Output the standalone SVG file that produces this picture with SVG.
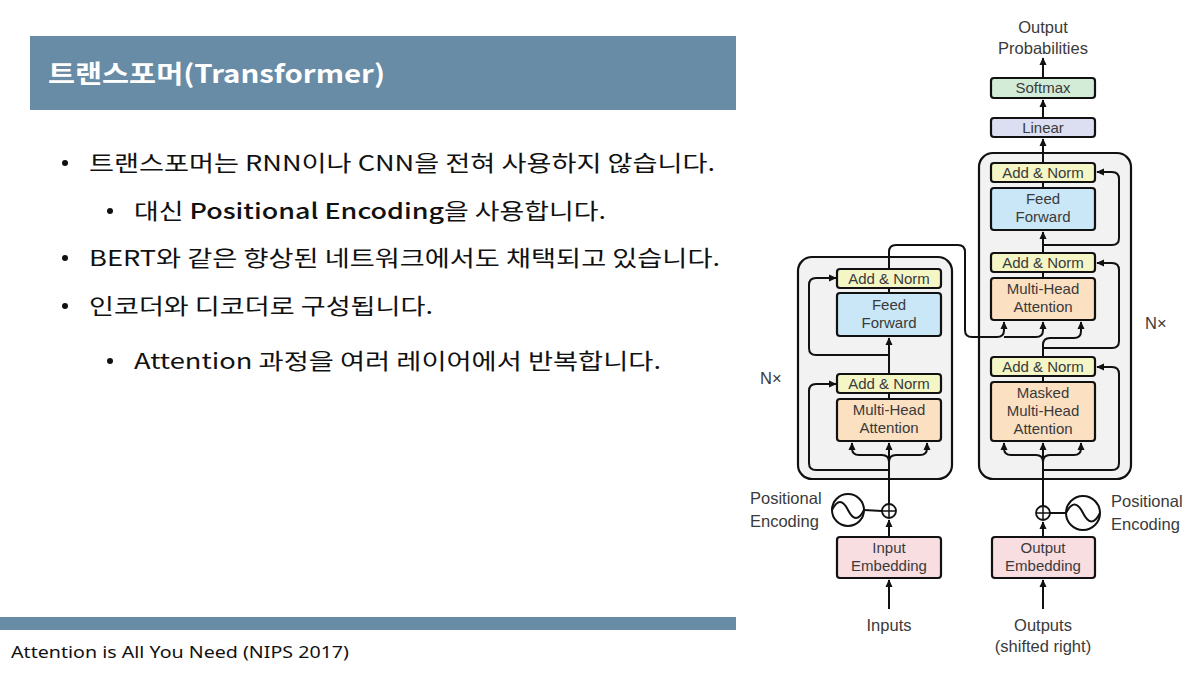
<svg xmlns="http://www.w3.org/2000/svg" width="1198" height="673" viewBox="0 0 1198 673">
<defs>
<marker id="ah" viewBox="0 0 10 10" refX="9" refY="5" markerWidth="8" markerHeight="8" markerUnits="userSpaceOnUse" orient="auto">
<path d="M0,0.5 L10,5 L0,9.5 Z" fill="#111"/>
</marker>
<style>
.kr{font-family:"Noto Sans CJK KR","Noto Sans",sans-serif;fill:#111;font-size:21.5px}
.lbl{font-family:"Liberation Sans",Arial,sans-serif;fill:#3a3a3a;font-size:15px;text-anchor:middle}
.out{font-family:"Liberation Sans",Arial,sans-serif;fill:#3a3a3a;font-size:16.5px}
.blk{stroke:#111;stroke-width:2.2}
.frame{fill:#F2F2F2;stroke:#111;stroke-width:2.2}
.an{fill:#F4F6C6}
.ff{fill:#C9E7F6}
.att{fill:#FCE0C2}
.emb{fill:#F8DDE1}
.sm{fill:#D3ECD7}
.lin{fill:#DCDEF2}
.c{fill:none;stroke:#111;stroke-width:2}
.ca{fill:none;stroke:#111;stroke-width:2;marker-end:url(#ah)}
</style>
</defs>
<rect width="1198" height="673" fill="#fff"/>

<g id="title">
<rect x="30" y="36" width="706" height="74" fill="#688CA6"/>
<text x="48" y="83" font-family="Noto Sans CJK KR, Noto Sans, sans-serif" font-weight="bold" font-size="25" fill="#fff" textLength="337" lengthAdjust="spacingAndGlyphs">트랜스포머(Transformer)</text>
</g>

<g id="bullets">
<circle cx="65" cy="163" r="3" fill="#111"/>
<text class="kr" x="89" y="171" textLength="626" lengthAdjust="spacingAndGlyphs">트랜스포머는 RNN이나 CNN을 전혀 사용하지 않습니다.</text>
<circle cx="110" cy="211" r="3" fill="#111"/>
<text class="kr" x="134" y="219" textLength="472" lengthAdjust="spacingAndGlyphs">대신 <tspan font-weight="500">Positional Encoding</tspan>을 사용합니다.</text>
<circle cx="65" cy="258" r="3" fill="#111"/>
<text class="kr" x="89" y="266" textLength="631" lengthAdjust="spacingAndGlyphs">BERT와 같은 향상된 네트워크에서도 채택되고 있습니다.</text>
<circle cx="65" cy="306" r="3" fill="#111"/>
<text class="kr" x="89" y="314" textLength="344" lengthAdjust="spacingAndGlyphs">인코더와 디코더로 구성됩니다.</text>
<circle cx="110" cy="361" r="3" fill="#111"/>
<text class="kr" x="134" y="369" textLength="527" lengthAdjust="spacingAndGlyphs">Attention 과정을 여러 레이어에서 반복합니다.</text>
</g>

<g id="footer">
<rect x="0" y="617" width="736" height="13" fill="#688CA6"/>
<text x="11" y="658" font-family="Noto Sans, sans-serif" font-size="17" fill="#111" textLength="338" lengthAdjust="spacingAndGlyphs">Attention is All You Need (NIPS 2017)</text>
</g>

<g id="encoder-frame"><rect class="frame" x="798" y="257" width="154" height="222" rx="14"/></g>
<g id="decoder-frame"><rect class="frame" x="979" y="153" width="152" height="326" rx="14"/></g>

<g id="connectors">
<path class="ca" d="M889,609 L889,580"/>
<path class="ca" d="M889,537 L889,520"/>
<path class="c" d="M864,510 L882,511"/>
<path class="ca" d="M889,504 L889,443"/>
<path class="ca" d="M889,462 Q889,455 882,455 L859,455 Q852,455 852,448 L852,443"/>
<path class="ca" d="M889,462 Q889,455 896,455 L920,455 Q927,455 927,448 L927,443"/>
<path class="ca" d="M889,470 L816,470 Q809,470 809,463 L809,391 Q809,384 816,384 L836,384"/>
<path class="c" d="M889,399 L889,393"/>
<path class="ca" d="M889,374 L889,338"/>
<path class="ca" d="M889,355 L816,355 Q809,355 809,348 L809,285 Q809,278 816,278 L836,278"/>
<path class="c" d="M889,293 L889,288"/>
<path class="ca" d="M889,269 L889,252 Q889,245 896,245 L958,245 Q965,245 965,252 L965,330 Q965,337 972,337 L997,337 Q1004,337 1004,330 L1004,322"/>
<path class="ca" d="M1004,337 L1036,337 Q1043,337 1043,330 L1043,322"/>
<path class="ca" d="M1043,609 L1043,580"/>
<path class="ca" d="M1043,537 L1043,522"/>
<path class="c" d="M1050,513 L1066,513"/>
<path class="ca" d="M1043,506 L1043,443"/>
<path class="ca" d="M1043,462 Q1043,455 1036,455 L1011,455 Q1004,455 1004,448 L1004,443"/>
<path class="ca" d="M1043,462 Q1043,455 1050,455 L1074,455 Q1081,455 1081,448 L1081,443"/>
<path class="ca" d="M1043,470 L1112,470 Q1119,470 1119,463 L1119,374 Q1119,367 1112,367 L1097,367"/>
<path class="c" d="M1043,382 L1043,376"/>
<path class="ca" d="M1043,357 L1043,345 Q1043,338 1050,338 L1074,338 Q1081,338 1081,331 L1081,322"/>
<path class="ca" d="M1043,348 L1112,348 Q1119,348 1119,341 L1119,270 Q1119,263 1112,263 L1097,263"/>
<path class="c" d="M1043,278 L1043,272"/>
<path class="ca" d="M1043,253 L1043,232"/>
<path class="ca" d="M1043,245 L1112,245 Q1119,245 1119,238 L1119,179 Q1119,172 1112,172 L1097,172"/>
<path class="c" d="M1043,188 L1043,182"/>
<path class="ca" d="M1043,163 L1043,139"/>
<path class="ca" d="M1043,118 L1043,100"/>
<path class="ca" d="M1043,78 L1043,58"/>
</g>

<g id="enc-addnorm2"><rect class="an blk" x="837" y="269" width="104" height="19" rx="3"/><text class="lbl" x="889" y="284">Add &amp; Norm</text></g>
<g id="enc-ff"><rect class="ff blk" x="837" y="293" width="104" height="43" rx="3"/><text class="lbl" x="889" y="310">Feed</text><text class="lbl" x="889" y="328">Forward</text></g>
<g id="enc-addnorm1"><rect class="an blk" x="837" y="374" width="104" height="19" rx="3"/><text class="lbl" x="889" y="389">Add &amp; Norm</text></g>
<g id="enc-mha"><rect class="att blk" x="837" y="399" width="104" height="42" rx="3"/><text class="lbl" x="889" y="415">Multi-Head</text><text class="lbl" x="889" y="433">Attention</text></g>
<g id="enc-emb"><rect class="emb blk" x="837" y="537" width="104" height="41" rx="3"/><text class="lbl" x="889" y="553">Input</text><text class="lbl" x="889" y="571">Embedding</text></g>
<g id="enc-pe">
<circle cx="848" cy="510" r="16" fill="#fff" stroke="#111" stroke-width="2"/>
<path d="M832,510 Q840,494 848,510 T864,510" fill="none" stroke="#111" stroke-width="2"/>
<circle cx="889" cy="511" r="7" fill="#fff" stroke="#111" stroke-width="1.8"/>
<path d="M882,511 L896,511 M889,504 L889,518" stroke="#111" stroke-width="1.5"/>
</g>

<g id="dec-softmax"><rect class="sm blk" x="991" y="78" width="104" height="20" rx="3"/><text class="lbl" x="1043" y="93">Softmax</text></g>
<g id="dec-linear"><rect class="lin blk" x="991" y="118" width="104" height="19" rx="3"/><text class="lbl" x="1043" y="133">Linear</text></g>
<g id="dec-addnorm3"><rect class="an blk" x="991" y="163" width="104" height="19" rx="3"/><text class="lbl" x="1043" y="178">Add &amp; Norm</text></g>
<g id="dec-ff"><rect class="ff blk" x="991" y="188" width="104" height="42" rx="3"/><text class="lbl" x="1043" y="204">Feed</text><text class="lbl" x="1043" y="222">Forward</text></g>
<g id="dec-addnorm2"><rect class="an blk" x="991" y="253" width="104" height="19" rx="3"/><text class="lbl" x="1043" y="268">Add &amp; Norm</text></g>
<g id="dec-mha"><rect class="att blk" x="991" y="278" width="104" height="42" rx="3"/><text class="lbl" x="1043" y="294">Multi-Head</text><text class="lbl" x="1043" y="312">Attention</text></g>
<g id="dec-addnorm1"><rect class="an blk" x="991" y="357" width="104" height="19" rx="3"/><text class="lbl" x="1043" y="372">Add &amp; Norm</text></g>
<g id="dec-masked"><rect class="att blk" x="991" y="382" width="104" height="59" rx="3"/><text class="lbl" x="1043" y="398">Masked</text><text class="lbl" x="1043" y="416">Multi-Head</text><text class="lbl" x="1043" y="434">Attention</text></g>
<g id="dec-emb"><rect class="emb blk" x="992" y="537" width="103" height="41" rx="3"/><text class="lbl" x="1043" y="553">Output</text><text class="lbl" x="1043" y="571">Embedding</text></g>
<g id="dec-pe">
<circle cx="1083" cy="513" r="17" fill="#fff" stroke="#111" stroke-width="2"/>
<path d="M1066,513 Q1074.5,496 1083,513 T1100,513" fill="none" stroke="#111" stroke-width="2"/>
<circle cx="1043" cy="513" r="7" fill="#fff" stroke="#111" stroke-width="1.8"/>
<path d="M1036,513 L1050,513 M1043,506 L1043,520" stroke="#111" stroke-width="1.5"/>
</g>

<g id="labels">
<text class="out" x="1043" y="33" text-anchor="middle" font-size="17">Output</text>
<text class="out" x="1043" y="54" text-anchor="middle" font-size="17">Probabilities</text>
<text class="out" x="760" y="384">N×</text>
<text class="out" x="1145" y="329">N×</text>
<text class="out" x="750" y="504">Positional</text>
<text class="out" x="750" y="527">Encoding</text>
<text class="out" x="1111" y="507">Positional</text>
<text class="out" x="1111" y="530">Encoding</text>
<text class="out" x="889" y="631" text-anchor="middle" font-size="17">Inputs</text>
<text class="out" x="1043" y="631" text-anchor="middle" font-size="17">Outputs</text>
<text class="out" x="1043" y="652" text-anchor="middle">(shifted right)</text>
</g>
</svg>
